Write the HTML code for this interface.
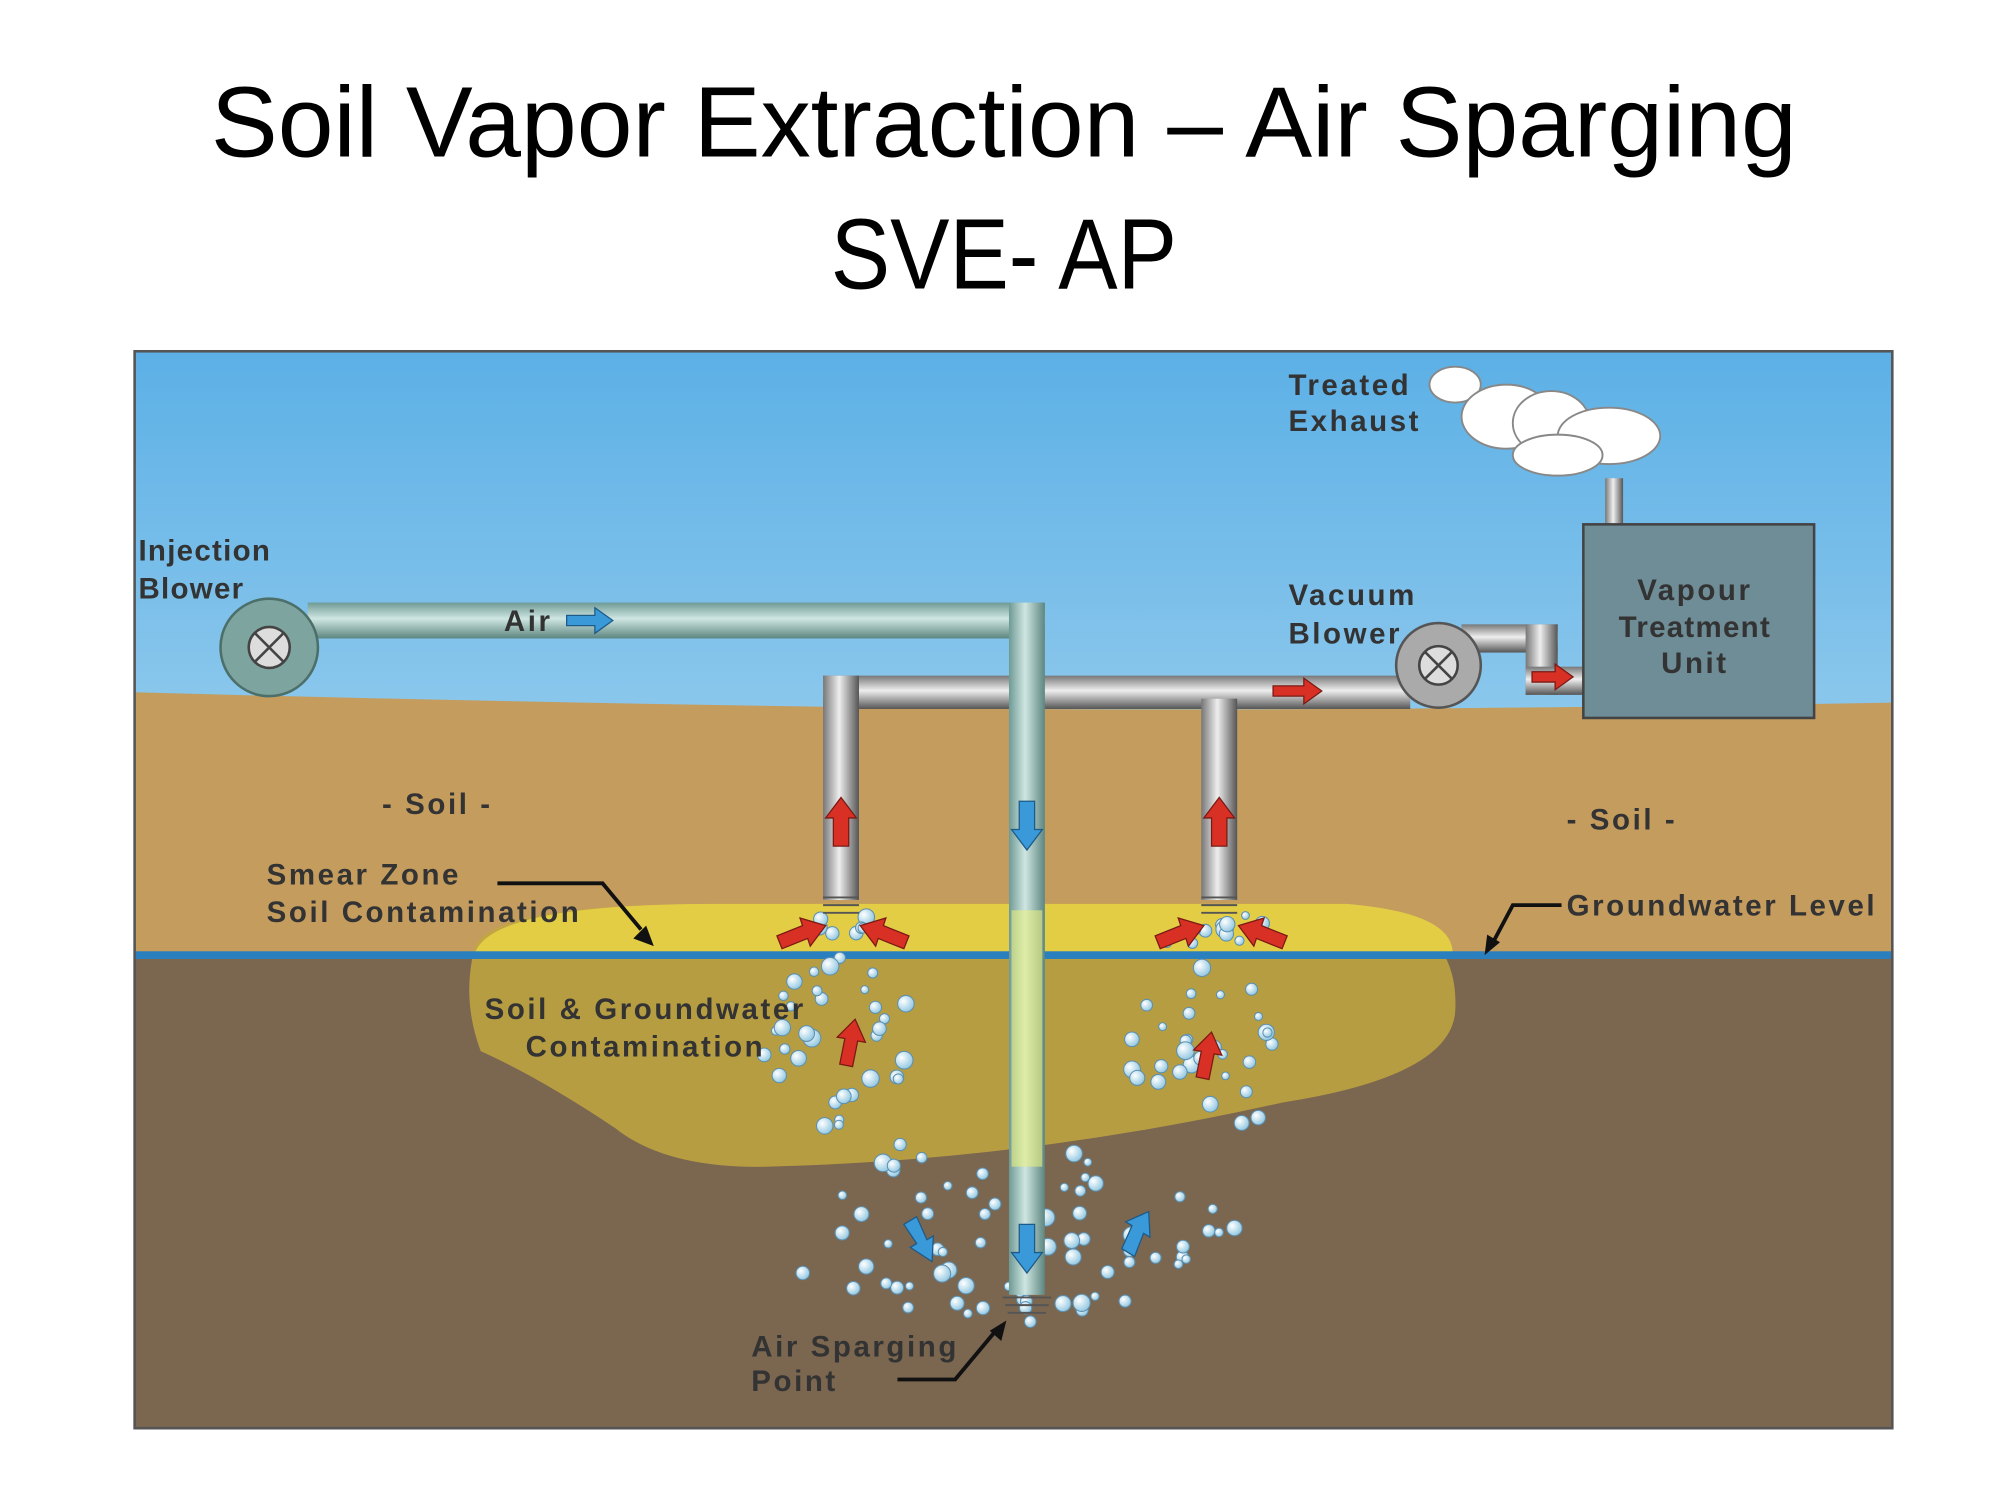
<!DOCTYPE html>
<html><head><meta charset="utf-8"><style>
html,body{margin:0;padding:0;background:#fff;}
svg{display:block;}
.t{font-family:"Liberation Sans",sans-serif;font-weight:bold;fill:#333;font-size:23px;letter-spacing:2px;}
.h{font-family:"Liberation Sans",sans-serif;fill:#000;}
</style></head><body>
<svg id="s" width="2000" height="1500" viewBox="0 0 1560 1170" xmlns="http://www.w3.org/2000/svg">
<defs>
<linearGradient id="sky" x1="0" y1="0" x2="0" y2="1">
<stop offset="0" stop-color="#5cb0e6"/><stop offset="0.55" stop-color="#a9d6f0"/><stop offset="1" stop-color="#eef6fb"/>
</linearGradient>
<linearGradient id="gp" x1="0" y1="0" x2="0" y2="1">
<stop offset="0" stop-color="#777"/><stop offset="0.45" stop-color="#eee"/><stop offset="1" stop-color="#555"/>
</linearGradient>
<linearGradient id="gpv" x1="0" y1="0" x2="1" y2="0">
<stop offset="0" stop-color="#777"/><stop offset="0.45" stop-color="#eee"/><stop offset="1" stop-color="#555"/>
</linearGradient>
<linearGradient id="tp" x1="0" y1="0" x2="0" y2="1">
<stop offset="0" stop-color="#6f9a94"/><stop offset="0.45" stop-color="#cfe6e2"/><stop offset="1" stop-color="#5d8680"/>
</linearGradient>
<linearGradient id="tpv" x1="0" y1="0" x2="1" y2="0">
<stop offset="0" stop-color="#6f9a94"/><stop offset="0.45" stop-color="#cfe6e2"/><stop offset="1" stop-color="#5d8680"/>
</linearGradient>
<radialGradient id="bub" cx="0.35" cy="0.35" r="0.7"><stop offset="0" stop-color="#fff"/><stop offset="1" stop-color="#8fc6e0"/></radialGradient>
<clipPath id="fr"><rect x="105" y="274" width="1371" height="840"/></clipPath>
</defs>
<text class="h" x="783" y="122" text-anchor="middle" font-size="78" textLength="1237" lengthAdjust="spacingAndGlyphs">Soil Vapor Extraction – Air Sparging</text>
<text class="h" x="783" y="225" text-anchor="middle" font-size="78" textLength="270" lengthAdjust="spacingAndGlyphs">SVE- AP</text>
<g clip-path="url(#fr)">
<rect x="105" y="274" width="1371" height="840" fill="url(#sky)"/>
<path d="M105 540 Q400 548 700 552 T1476 548 L1476 1114 L105 1114Z" fill="#c49c5e"/>
<rect x="105" y="746" width="1371" height="370" fill="#7b6650"/>
<path d="M370 740 Q380 705 560 705 L1050 705 Q1140 715 1135 790 Q1130 840 1000 860 Q800 905 600 910 Q520 912 480 880 Q420 840 375 820 Q360 780 370 740Z" fill="#c2a73f" opacity="0.85"/>
<path d="M370 745 Q380 705 560 705 L1050 705 Q1135 712 1133 745Z" fill="#e3cd45"/>
<rect x="105" y="742" width="1371" height="6" fill="#2a7fbf"/>
<g id="bubbles"></g>
</g>
<rect x="105" y="274" width="1371" height="840" fill="none" stroke="#555" stroke-width="2"/>
<rect x="642" y="527" width="458" height="26" fill="url(#gp)"/>
<rect x="642" y="527" width="28" height="175" fill="url(#gpv)"/>
<rect x="937" y="545" width="28" height="157" fill="url(#gpv)"/>
<g stroke="#555" stroke-width="1.5"><line x1="642" y1="700" x2="670" y2="700"/><line x1="642" y1="706" x2="670" y2="706"/><line x1="642" y1="712" x2="670" y2="712"/><line x1="937" y1="700" x2="965" y2="700"/><line x1="937" y1="706" x2="965" y2="706"/><line x1="937" y1="712" x2="965" y2="712"/></g>
<rect x="1140" y="487" width="75" height="22" fill="url(#gp)"/>
<rect x="1190" y="487" width="25" height="55" fill="url(#gpv)"/>
<rect x="1190" y="520" width="45" height="22" fill="url(#gp)"/>
<circle cx="1122" cy="519" r="33" fill="#aaa" stroke="#555" stroke-width="2"/>
<circle cx="1122" cy="519" r="15" fill="#ddd" stroke="#444" stroke-width="2"/>
<path d="M1112 509 L1132 529 M1132 509 L1112 529" stroke="#444" stroke-width="2"/>
<rect x="240" y="470" width="575" height="28" fill="url(#tp)"/>
<rect x="787" y="470" width="28" height="540" fill="url(#tpv)"/>
<rect x="789" y="710" width="24" height="200" fill="#e8f080" opacity="0.6"/>
<g stroke="#555" stroke-width="1.5"><line x1="782" y1="1012" x2="820" y2="1012"/><line x1="784" y1="1018" x2="818" y2="1018"/><line x1="786" y1="1024" x2="816" y2="1024"/></g>
<circle cx="210" cy="505" r="38" fill="#7da49f" stroke="#4d6f6a" stroke-width="2"/>
<circle cx="210" cy="505" r="16" fill="#ddd" stroke="#444" stroke-width="2"/>
<path d="M199 494 L221 516 M221 494 L199 516" stroke="#444" stroke-width="2"/>
<rect x="1252" y="373" width="14" height="38" fill="url(#gpv)"/>
<rect x="1235" y="409" width="180" height="151" fill="#6e8d97" stroke="#444" stroke-width="2"/>
<g fill="#fff" stroke="#888" stroke-width="1.5">
<ellipse cx="1135" cy="300" rx="20" ry="14"/><ellipse cx="1175" cy="325" rx="35" ry="25"/><ellipse cx="1210" cy="330" rx="30" ry="25"/><ellipse cx="1255" cy="340" rx="40" ry="22"/><ellipse cx="1215" cy="355" rx="35" ry="16"/>
</g>
<g fill="#3a9ad9" stroke="#1e5a88" stroke-width="1">
<path d="M442 480 h22 v-6 l14 10 -14 10 v-6 h-22z"/>
<path d="M795 625 h12 v22 h6 l-12 16 -12 -16 h6z"/>
<path d="M795 955 h12 v22 h6 l-12 16 -12 -16 h6z"/>
<path d="M705 955 l10 -6 l8 18 5 -3 -1 20 -17 -11 5 -3z"/>
<path d="M885 980 l-10 -6 l8 -18 -5 -3 18 -8 1 20 -5 -3z"/>
</g>
<g fill="#d93025" stroke="#7a1a14" stroke-width="1">
<path d="M650 660 h12 v-22 h6 l-12 -16 -12 16 h6z"/>
<path d="M945 660 h12 v-22 h6 l-12 -16 -12 16 h6z"/>
<path d="M993 535 h24 v-6 l14 10 -14 10 v-6 h-24z"/>
<path d="M1195 524 h18 v-6 l14 10 -14 10 v-6 h-18z"/>
<path d="M610 740 l-4 -10 20 -8 -2 -6 20 6 -12 16 -2 -6z"/>
<path d="M705 740 l4 -10 -20 -8 2 -6 -20 6 12 16 2 -6z"/>
<path d="M905 740 l-4 -10 20 -8 -2 -6 20 6 -12 16 -2 -6z"/>
<path d="M1000 740 l4 -10 -20 -8 2 -6 -20 6 12 16 2 -6z"/>
<path d="M655 830 l10 2 4 -20 6 1 -8 -18 -14 14 6 1z"/>
<path d="M933 840 l10 2 4 -20 6 1 -8 -18 -14 14 6 1z"/>
</g>
<g stroke="#111" stroke-width="3" fill="none">
<path d="M388 689 L470 689 L500 725"/><path d="M1218 706 L1180 706 L1163 738"/><path d="M700 1076 L745 1076 L775 1040"/>
</g>
<g fill="#111"><path d="M510 738 l-16 -6 10 -10z"/><path d="M1158 745 l2 -16 10 6z"/><path d="M785 1030 l-4 16 -9 -8z"/></g>
<text class="t" x="108" y="437" style="letter-spacing:1px">Injection</text>
<text class="t" x="108" y="467" style="letter-spacing:1px">Blower</text>
<text class="t" x="393" y="492">Air</text>
<text class="t" x="1005" y="472">Vacuum</text>
<text class="t" x="1005" y="502">Blower</text>
<text class="t" x="1005" y="308">Treated</text>
<text class="t" x="1005" y="336">Exhaust</text>
<text class="t" x="1322" y="468" text-anchor="middle">Vapour</text>
<text class="t" x="1322" y="497" text-anchor="middle" style="letter-spacing:1px">Treatment</text>
<text class="t" x="1322" y="525" text-anchor="middle">Unit</text>
<text class="t" x="298" y="635">- Soil -</text>
<text class="t" x="1222" y="647">- Soil -</text>
<text class="t" x="208" y="690">Smear Zone</text>
<text class="t" x="208" y="719">Soil Contamination</text>
<text class="t" x="1222" y="714">Groundwater Level</text>
<text class="t" x="378" y="795">Soil &amp; Groundwater</text>
<text class="t" x="410" y="824">Contamination</text>
<text class="t" x="586" y="1058">Air Sparging</text>
<text class="t" x="586" y="1085">Point</text>
</svg>
<script>
var g=document.getElementById('bubbles'),s=7;
function r(){s=(s*9301+49297)%233280;return s/233280;}
function add(cx,cy,rx,ry,n){for(var i=0;i<n;i++){var a=r()*Math.PI*2,d=Math.sqrt(r());var c=document.createElementNS('http://www.w3.org/2000/svg','circle');c.setAttribute('cx',cx+Math.cos(a)*rx*d);c.setAttribute('cy',cy+Math.sin(a)*ry*d);c.setAttribute('r',3+r()*4);c.setAttribute('fill','url(#bub)');c.setAttribute('stroke','#5a8fb0');c.setAttribute('stroke-width','0.8');g.appendChild(c);}}
add(650,800,60,90,35);add(940,810,60,95,35);add(700,960,90,70,30);add(880,960,90,70,30);add(800,1020,50,20,12);add(655,720,30,10,6);add(955,720,30,10,6);
</script>
</body></html>
